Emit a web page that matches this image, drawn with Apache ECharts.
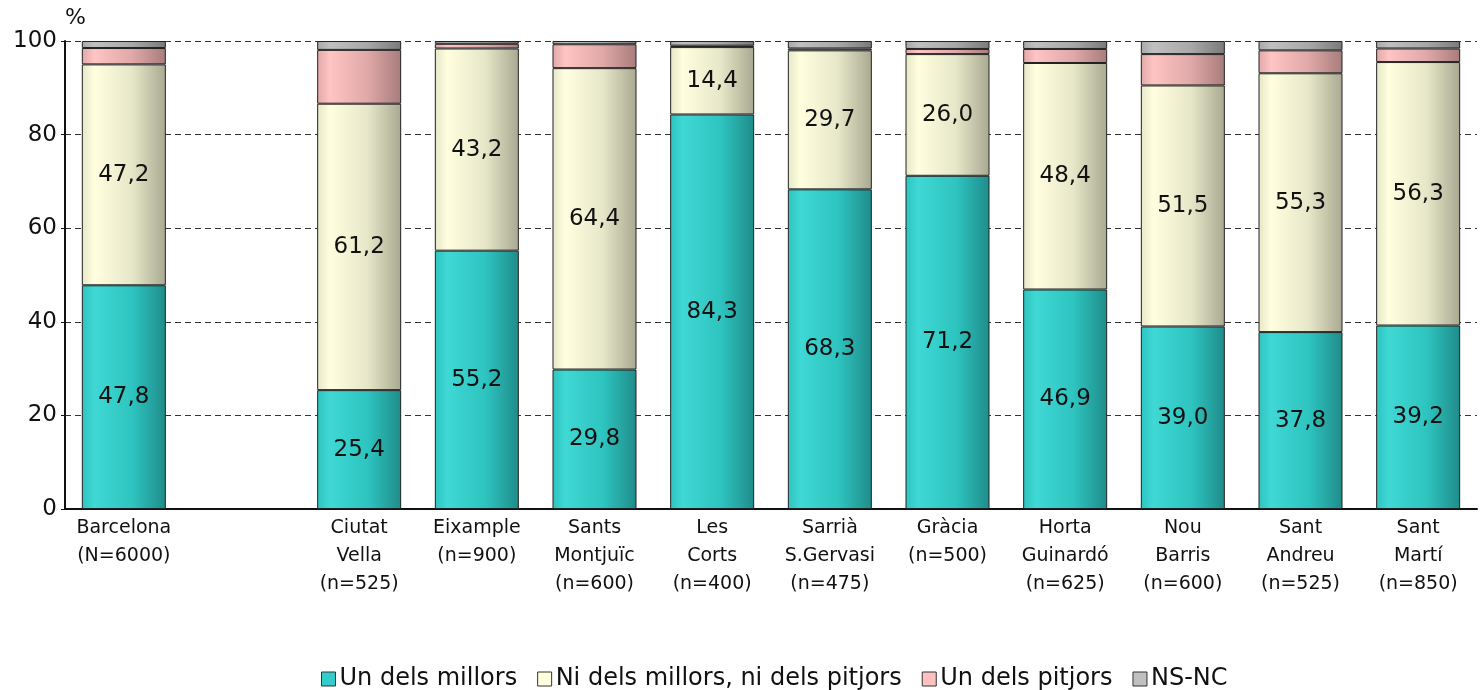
<!DOCTYPE html>
<html>
<head>
<meta charset="utf-8">
<script src="https://cdn.jsdelivr.net/npm/echarts@6/dist/echarts.min.js"></script>
<style>
  html, body { margin: 0; padding: 0; background: #fff; }
  #mychart { width: 1484px; height: 690px; }
</style>
</head>
<body>
<div id="mychart"></div>
<script>
// categories (second slot is an empty gap, as in the original)
const categories = [
  'Barcelona\n(N=6000)', '', 'Ciutat\nVella\n(n=525)', 'Eixample\n(n=900)',
  'Sants\nMontjuïc\n(n=600)', 'Les\nCorts\n(n=400)', 'Sarrià\nS.Gervasi\n(n=475)',
  'Gràcia\n(n=500)', 'Horta\nGuinardó\n(n=625)', 'Nou\nBarris\n(n=600)',
  'Sant\nAndreu\n(n=525)', 'Sant\nMartí\n(n=850)'
];
const millors = [47.8, null, 25.4, 55.2, 29.8, 84.3, 68.3, 71.2, 46.9, 39.0, 37.8, 39.2];
const niNi    = [47.2, null, 61.2, 43.2, 64.4, 14.4, 29.7, 26.0, 48.4, 51.5, 55.3, 56.3];
const pitjors = [3.5, null, 11.5, 1.0, 5.1, 0.3, 0.4, 1.1, 3.0, 6.7, 4.9, 2.9];
const nsnc    = [1.5, null, 1.9, 0.6, 0.7, 1.0, 1.6, 1.7, 1.7, 2.8, 2.0, 1.6];
const yTicks = [0, 20, 40, 60, 80, 100];

const FONT = 'DejaVu Sans';

// cylinder-ish shading, light at left, darker to the right
function shade(light, mid, dark) {
  return new echarts.graphic.LinearGradient(0, 0, 1, 0, [
    { offset: 0, color: mid },
    { offset: 0.15, color: light },
    { offset: 0.6, color: mid },
    { offset: 1, color: dark },
  ]);
}

const colors = {
  millors: shade('#3fd8d4', '#2ec4c0', '#1f8c8a'),
  ni: shade('#ffffe0', '#e6e6c8', '#a9a992'),
  pitjors: shade('#ffc4c4', '#e0a8a8', '#a87c7c'),
  nsnc: shade('#c0c0c0', '#a8a8a8', '#7a7a7a'),
};
const legendColors = ['#33cccc', '#ffffdd', '#ffc0c0', '#c0c0c0'];

function label(show) {
  return {
    show: show,
    position: 'inside',
    fontFamily: FONT,
    fontSize: 23,
    color: '#111',
    formatter: (p) => p.value == null ? '' : p.value.toFixed(1).replace('.', ','),
  };
}

function makeSeries(name, data, color, showLabel) {
  return {
    name: name,
    type: 'bar',
    stack: 'total',
    barWidth: 84,
    data: data,
    itemStyle: { color: color, borderColor: '#222', borderWidth: 1 },
    label: label(showLabel),
    emphasis: { disabled: true },
  };
}

const chart = echarts.init(document.getElementById('mychart'));
chart.setOption({
  animation: false,
  color: legendColors,
  grid: { left: 65, right: 7, top: 41, bottom: 181 },
  legend: {
    top: 662,
    left: 316,
    itemWidth: 14,
    itemHeight: 14,
    itemGap: 20,
    icon: 'rect',
    textStyle: { fontFamily: FONT, fontSize: 24, color: '#111', padding: [0, 0, 0, -1] },
    data: [
      { name: 'Un dels millors', itemStyle: { color: legendColors[0], borderColor: '#333', borderWidth: 1 } },
      { name: 'Ni dels millors, ni dels pitjors', itemStyle: { color: legendColors[1], borderColor: '#333', borderWidth: 1 } },
      { name: 'Un dels pitjors', itemStyle: { color: legendColors[2], borderColor: '#333', borderWidth: 1 } },
      { name: 'NS-NC', itemStyle: { color: legendColors[3], borderColor: '#333', borderWidth: 1 } },
    ],
  },
  xAxis: {
    type: 'category',
    data: categories,
    axisLine: { lineStyle: { color: '#111', width: 2 } },
    axisTick: { show: false },
    axisLabel: {
      fontFamily: FONT,
      fontSize: 19,
      color: '#111',
      lineHeight: 28,
      margin: 5,
      interval: 0,
      verticalAlign: 'top',
    },
  },
  yAxis: {
    type: 'value',
    min: 0,
    max: 100,
    interval: 20,
    name: '%',
    nameLocation: 'end',
    nameGap: 12,
    nameTextStyle: { fontFamily: FONT, fontSize: 22, color: '#111', align: 'left', padding: [0, 0, 0, 0] },
    axisLine: { show: true, lineStyle: { color: '#111', width: 2 } },
    axisTick: { show: true, length: 4, lineStyle: { color: '#111' } },
    axisLabel: {
      fontFamily: FONT,
      fontSize: 23,
      color: '#111',
      margin: 8,
      formatter: (v) => (yTicks.includes(v) ? String(v) : ''),
    },
    splitLine: { show: true, lineStyle: { color: '#333', type: [6, 4], width: 1 } },
  },
  series: [
    makeSeries('Un dels millors', millors, colors.millors, true),
    makeSeries('Ni dels millors, ni dels pitjors', niNi, colors.ni, true),
    makeSeries('Un dels pitjors', pitjors, colors.pitjors, false),
    makeSeries('NS-NC', nsnc, colors.nsnc, false),
  ],
});
</script>
</body>
</html>
